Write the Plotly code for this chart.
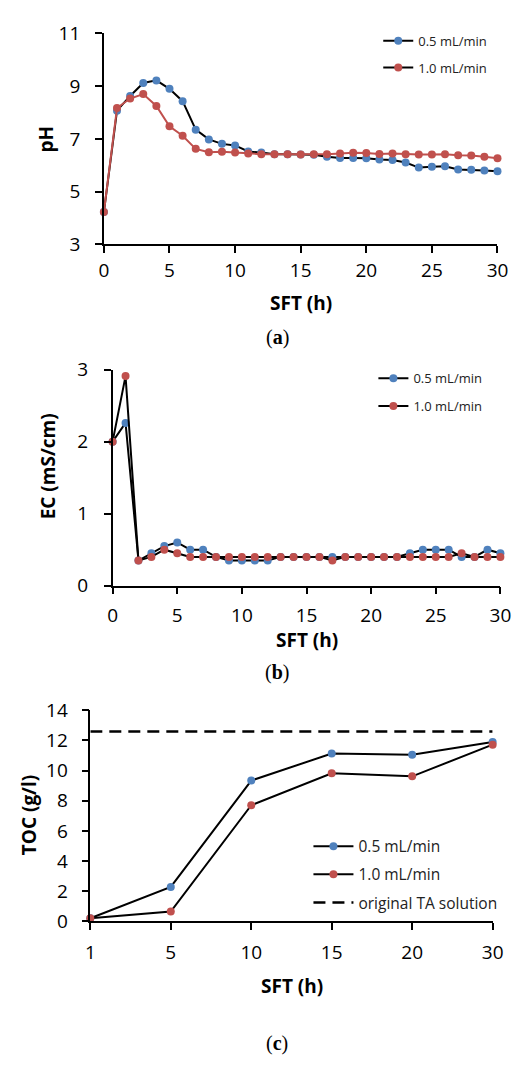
import plotly.graph_objects as go

W, H = 524, 1068

# ---- (a) pH vs. solution flow time ----
hours = list(range(31))
ph_05 = [4.22, 8.07, 8.63, 9.12, 9.22, 8.90, 8.43, 7.35, 6.98, 6.81, 6.75,
         6.52, 6.48, 6.42, 6.42, 6.41, 6.40, 6.32, 6.27, 6.27, 6.26,
         6.22, 6.20, 6.10, 5.91, 5.94, 5.96, 5.84, 5.83, 5.80, 5.77]
ph_10 = [4.22, 8.17, 8.53, 8.70, 8.25, 7.48, 7.12, 6.62, 6.49, 6.51, 6.48,
         6.44, 6.42, 6.42, 6.42, 6.41, 6.42, 6.42, 6.44, 6.47, 6.46,
         6.43, 6.44, 6.42, 6.41, 6.41, 6.42, 6.38, 6.37, 6.32, 6.26]

# ---- (b) electrical conductivity ----
ec_05 = [2.00, 2.26, 0.35, 0.45, 0.55, 0.60, 0.50, 0.50, 0.40, 0.35, 0.35,
         0.35, 0.35, 0.40, 0.40, 0.40, 0.40, 0.40, 0.40, 0.40, 0.40,
         0.40, 0.40, 0.45, 0.50, 0.50, 0.50, 0.40, 0.40, 0.50, 0.45]
ec_10 = [2.00, 2.91, 0.35, 0.40, 0.50, 0.45, 0.40, 0.40, 0.40, 0.40, 0.40,
         0.40, 0.40, 0.40, 0.40, 0.40, 0.40, 0.35, 0.40, 0.40, 0.40,
         0.40, 0.40, 0.40, 0.40, 0.40, 0.40, 0.45, 0.40, 0.40, 0.40]

# ---- (c) total organic carbon ----
sft_c = ["1", "5", "10", "15", "20", "30"]
toc_05 = [0.20, 2.28, 9.34, 11.13, 11.05, 11.89]
toc_10 = [0.20, 0.65, 7.70, 9.82, 9.62, 11.72]
toc_original = 12.6

names = ["0.5 mL/min", "1.0 mL/min"]
BLUE, RED, BLACK = "#4F81BD", "#C0504D", "#000000"
FONT = "Open Sans"


def xdom(left, right):
    return [left / W, right / W]


def ydom(top, bottom):
    return [1 - bottom / H, 1 - top / H]


fig = go.Figure()

# panel (a)
fig.add_trace(go.Scatter(x=hours, y=ph_05, name=names[0], mode="lines+markers",
                         line=dict(color=BLACK, width=2), marker=dict(color=BLUE, size=8),
                         xaxis="x", yaxis="y", legend="legend", legendgroup="a1",
                         cliponaxis=False))
fig.add_trace(go.Scatter(x=hours, y=ph_10, name=names[1], mode="lines+markers",
                         line=dict(color=RED, width=2), marker=dict(color=RED, size=8),
                         xaxis="x", yaxis="y", showlegend=False, cliponaxis=False))
fig.add_trace(go.Scatter(x=[None], y=[None], name=names[1], mode="lines+markers",
                         line=dict(color=BLACK, width=2), marker=dict(color=RED, size=8),
                         xaxis="x", yaxis="y", legend="legend", legendgroup="a2"))

# panel (b)
fig.add_trace(go.Scatter(x=hours, y=ec_05, name=names[0], mode="lines+markers",
                         line=dict(color=BLACK, width=2), marker=dict(color=BLUE, size=8),
                         xaxis="x2", yaxis="y2", legend="legend2", legendgroup="b1",
                         cliponaxis=False))
fig.add_trace(go.Scatter(x=hours, y=ec_10, name=names[1], mode="lines+markers",
                         line=dict(color=BLACK, width=2), marker=dict(color=RED, size=8),
                         xaxis="x2", yaxis="y2", legend="legend2", legendgroup="b2",
                         cliponaxis=False))

# panel (c)
fig.add_trace(go.Scatter(x=sft_c, y=toc_05, name=names[0], mode="lines+markers",
                         line=dict(color=BLACK, width=2), marker=dict(color=BLUE, size=8),
                         xaxis="x3", yaxis="y3", legend="legend3", legendgroup="c1",
                         cliponaxis=False))
fig.add_trace(go.Scatter(x=sft_c, y=toc_10, name=names[1], mode="lines+markers",
                         line=dict(color=BLACK, width=2), marker=dict(color=RED, size=8),
                         xaxis="x3", yaxis="y3", legend="legend3", legendgroup="c2",
                         cliponaxis=False))
fig.add_trace(go.Scatter(x=sft_c, y=[toc_original] * len(sft_c), name="original TA solution",
                         mode="lines", line=dict(color=BLACK, width=2.5, dash="12px,7px"),
                         xaxis="x3", yaxis="y3", legend="legend3", legendgroup="c3",
                         cliponaxis=False))

tickfont = dict(family=FONT, size=19, color=BLACK)
titlefont = dict(family=FONT, size=19, color=BLACK, weight="bold")

common_axis = dict(showline=True, linecolor=BLACK, linewidth=1.5, ticks="outside",
                   ticklen=7, tickwidth=1.5, tickcolor=BLACK, showgrid=False,
                   zeroline=False, tickfont=tickfont, fixedrange=True)

fig.update_layout(
    width=W, height=H, margin=dict(l=0, r=0, t=0, b=0),
    paper_bgcolor="white", plot_bgcolor="white", showlegend=True,
    xaxis=dict(common_axis, domain=xdom(102, 508), anchor="y", range=[0, 30],
               tick0=0, dtick=5, ticklabelstandoff=1),
    yaxis=dict(common_axis, domain=ydom(21, 237), anchor="x", range=[3, 11],
               tick0=3, dtick=2, ticklabelstandoff=11),
    xaxis2=dict(common_axis, domain=xdom(111, 511), anchor="y2", range=[0, 30],
                tick0=0, dtick=5, ticklabelstandoff=5),
    yaxis2=dict(common_axis, domain=ydom(365.5, 587), anchor="x2", range=[0, 3],
                tick0=0, dtick=1, ticklabelstandoff=12),
    xaxis3=dict(common_axis, domain=xdom(88, 503), anchor="y3", type="category",
                range=[0, 5], ticklabelstandoff=6),
    yaxis3=dict(common_axis, domain=ydom(714.7, 931), anchor="x3", range=[0, 14],
                tick0=0, dtick=2, ticklabelstandoff=10),
    legend=dict(x=385 / W, y=1 - 13 / H, xanchor="left", yanchor="top",
                bgcolor="rgba(0,0,0,0)", font=dict(family=FONT, size=13, color="#222"),
                tracegroupgap=7, itemwidth=30),
    legend2=dict(x=380 / W, y=1 - 359 / H, xanchor="left", yanchor="top",
                 bgcolor="rgba(0,0,0,0)", font=dict(family=FONT, size=13, color="#222"),
                 tracegroupgap=8, itemwidth=30),
    legend3=dict(x=313 / W, y=1 - 837 / H, xanchor="left", yanchor="top",
                 bgcolor="rgba(0,0,0,0)", font=dict(family=FONT, size=15.5, color="#222"),
                 tracegroupgap=5, itemwidth=40),
)

# axis titles
axis_titles = [
    ("SFT (h)", 305, 297, 0),
    ("SFT (h)", 311, 643, 0),
    ("SFT (h)", 296, 997, 0),
    ("pH", 42, 129, -90),
    ("EC (mS/cm)", 44, 465, -90),
    ("TOC (g/l)", 25, 822, -90),
]
for text, xpx, ypx, angle in axis_titles:
    fig.add_annotation(text=text, xref="paper", yref="paper", x=xpx / W, y=1 - ypx / H,
                       xanchor="center", yanchor="middle", textangle=angle,
                       showarrow=False, font=titlefont)

# sub-figure captions
caption_font = dict(family="Liberation Serif", size=20, color=BLACK)
for label, ypx in [("a", 333), ("b", 676), ("c", 1056)]:
    fig.add_annotation(text=f"(<b>{label}</b>)", xref="paper", yref="paper",
                       x=281 / W, y=1 - ypx / H, xanchor="center", yanchor="middle",
                       showarrow=False, font=caption_font)

fig.write_html("out.html")
